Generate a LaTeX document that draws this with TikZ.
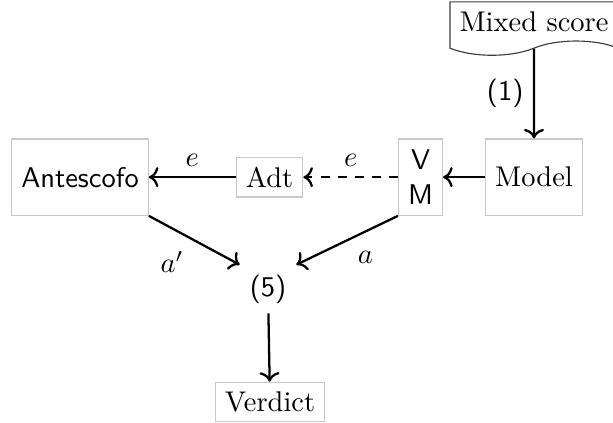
\documentclass[tikz,border=0pt]{standalone}
\usepackage{tikz}
\usetikzlibrary{arrows.meta,shapes.symbols}
\definecolor{boxgray}{RGB}{200,200,200}
\definecolor{tapegray}{RGB}{60,60,60}
\tikzset{
    bigbox/.style={draw=boxgray,minimum height=0.94cm},
    smallbox/.style={draw=boxgray},
    scorebox/.style={draw=tapegray,tape,tape bend top=none},
    flow/.style={->,thick},
    dashflow/.style={->,thick,dashed},
    plainlabel/.style={inner sep=3.33pt}
}

\begin{document}
\begin{tikzpicture}[>=To]
    \useasboundingbox (0,0) rectangle (7.56,5.205);
    % Input score
    \node[scorebox] (score) at (6.586,4.94) {Mixed score};
    % Row of boxes
    \node[bigbox] (model) at (6.586,3.02) {Model};
    \node[bigbox,align=center,font=\sffamily] (vm) at (5.186,3.02) {V\\M};
    \node[smallbox] (adt) at (3.324,3.02) {Adt};
    \node[bigbox,font=\sffamily] (antescofo) at (0.987,3.02) {Antescofo};
    % Meeting point
    \node[plainlabel,font=\sffamily] (five) at (3.305,1.64) {(5)};
    % Result
    \node[smallbox] (verdict) at (3.330,0.247) {Verdict};
    % Connectors
    \draw[flow] (score) -- node[left,font=\sffamily] {(1)} (model);
    \draw[flow] (model) -- (vm);
    \draw[dashflow] (vm) -- node[above] {$e$} (adt);
    \draw[flow] (adt) -- node[above] {$e$} (antescofo);
    \draw[flow] (antescofo.south east) -- node[below left] {$a'$} (five.north west);
    \draw[flow] (vm.south west) -- node[below right] {$a$} (five.north east);
    \draw[flow] (five) -- (verdict);
\end{tikzpicture}
\end{document}
